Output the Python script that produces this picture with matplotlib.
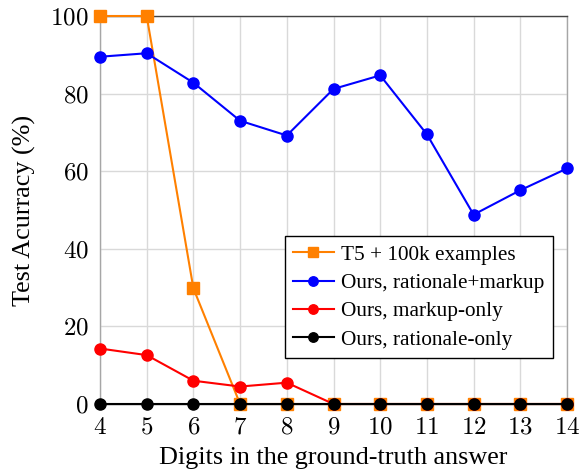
import matplotlib
matplotlib.use("Agg")
import matplotlib.pyplot as plt
from matplotlib.ticker import FuncFormatter

plt.rcParams['font.family'] = ['Liberation Serif', 'DejaVu Serif']
plt.rcParams['mathtext.fontset'] = 'cm'

digits = [4, 5, 6, 7, 8, 9, 10, 11, 12, 13, 14]
t5_100k = [100, 100, 29.8, 0, 0, 0, 0, 0, 0, 0, 0]
ours_rationale_markup = [89.5, 90.4, 82.8, 73.0, 69.2, 81.2, 84.7, 69.5, 48.8, 55.1, 60.7]
ours_markup_only = [14.3, 12.6, 6.0, 4.5, 5.5, 0, 0, 0, 0, 0, 0]
ours_rationale_only = [0, 0, 0, 0, 0, 0, 0, 0, 0, 0, 0]
labels = ["T5 + 100k examples", "Ours, rationale+markup", "Ours, markup-only", "Ours, rationale-only"]
yticks = [0, 20, 40, 60, 80, 100]

fig = plt.figure(figsize=(5.82, 4.72), dpi=100)
ax = fig.add_axes([100/582, 68/472, 467/582, 388/472])

series = [t5_100k, ours_rationale_markup, ours_markup_only, ours_rationale_only]
colors = ['#ff8000', '#0000ff', '#ff0000', '#000000']
markers = ['s', 'o', 'o', 'o']
for ys, c, m, lab in zip(series, colors, markers, labels):
    ax.plot(digits, ys, color=c, marker=m, markersize=8 if m == 'o' else 8,
            linewidth=1.5, label=lab, clip_on=False, zorder=3)

ax.set_xlim(4, 14)
ax.set_ylim(0, 100)
ax.set_xticks(digits)
ax.set_yticks(yticks)
ax.xaxis.set_major_formatter(FuncFormatter(lambda v, p: f"${int(v)}$"))
ax.yaxis.set_major_formatter(FuncFormatter(lambda v, p: f"${int(v)}$"))
ax.tick_params(labelsize=18, length=0)
ax.tick_params(axis='x', pad=9)
ax.tick_params(axis='y', pad=8)
ax.grid(True, color='#d9d9d9', linewidth=1.0)
ax.set_axisbelow(True)
for name, s in ax.spines.items():
    s.set_linewidth(1.0)
    s.set_color('#444444' if name in ('top', 'bottom') else '#a6a6a6')

ax.set_xlabel("Digits in the ground-truth answer", fontsize=18.8, labelpad=6)
ax.set_ylabel("Test Acurracy (%)", fontsize=18.8, labelpad=10)

leg = ax.legend(loc='lower right', bbox_to_anchor=(0.970, 0.118), fontsize=15.3,
                frameon=True, fancybox=False, edgecolor='black', framealpha=1,
                borderpad=0.4, labelspacing=0.4, handlelength=1.9, handletextpad=0.35,
                borderaxespad=0, markerscale=0.85)
leg.get_frame().set_linewidth(1.0)

fig.savefig("out.png", dpi=100)
